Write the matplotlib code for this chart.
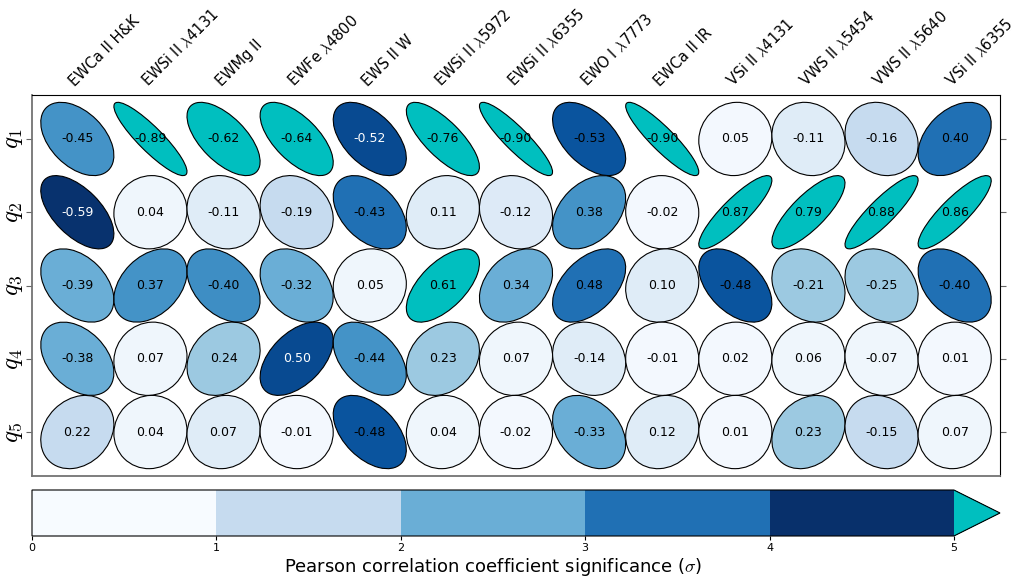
import numpy as np
import matplotlib
matplotlib.use('Agg')
import matplotlib.pyplot as plt
import matplotlib.transforms as mtransforms
from matplotlib.patches import Ellipse
from matplotlib.colors import ListedColormap, BoundaryNorm, Normalize
import matplotlib.colorbar as mcolorbar

plt.rcParams['mathtext.fontset'] = 'cm'

columns = ['EWCa II H&K', r'EWSi II $\lambda$4131', 'EWMg II', r'EWFe $\lambda$4800',
           'EWS II W', r'EWSi II $\lambda$5972', r'EWSi II $\lambda$6355',
           r'EWO I $\lambda$7773', 'EWCa II IR', r'VSi II $\lambda$4131',
           r'VWS II $\lambda$5454', r'VWS II $\lambda$5640', r'VSi II $\lambda$6355']
rows = ['$q_1$', '$q_2$', '$q_3$', '$q_4$', '$q_5$']

# correlation coefficients
corr = np.array([
    [-0.45, -0.89, -0.62, -0.64, -0.52, -0.76, -0.90, -0.53, -0.90, 0.05, -0.11, -0.16, 0.40],
    [-0.59, 0.04, -0.11, -0.19, -0.43, 0.11, -0.12, 0.38, -0.02, 0.87, 0.79, 0.88, 0.86],
    [-0.39, 0.37, -0.40, -0.32, 0.05, 0.61, 0.34, 0.48, 0.10, -0.48, -0.21, -0.25, -0.40],
    [-0.38, 0.07, 0.24, 0.50, -0.44, 0.23, 0.07, -0.14, -0.01, 0.02, 0.06, -0.07, 0.01],
    [0.22, 0.04, 0.07, -0.01, -0.48, 0.04, -0.02, -0.33, 0.12, 0.01, 0.23, -0.15, 0.07],
])

# significance in sigma
sig = np.array([
    [3.1, 6.0, 6.0, 6.0, 4.5, 6.0, 6.0, 4.3, 6.0, 0.1, 0.6, 1.25, 3.75],
    [4.95, 0.2, 0.6, 1.25, 3.75, 0.6, 0.65, 3.1, 0.1, 6.0, 6.0, 6.0, 6.0],
    [2.5, 3.1, 3.2, 2.5, 0.2, 6.0, 2.5, 3.75, 0.6, 4.3, 1.9, 1.9, 3.75],
    [2.5, 0.2, 1.9, 4.5, 3.1, 1.9, 0.2, 0.6, 0.1, 0.1, 0.2, 0.2, 0.1],
    [1.25, 0.2, 0.6, 0.1, 4.3, 0.2, 0.1, 2.5, 0.6, 0.1, 1.9, 1.25, 0.2],
])

fig = plt.figure(figsize=(10.19, 5.79), dpi=100)
ax = fig.add_axes([32 / 1019, 1 - 476 / 579, 968 / 1019, 381 / 579])

cmap = plt.cm.Blues.copy()
cmap.set_over('c')
norm = Normalize(0, 5)

for i in range(len(rows)):
    for j in range(len(columns)):
        r = corr[i, j]
        s = sig[i, j]
        # y axis is inverted, so -45 deg in data looks like +45 on screen
        e = Ellipse((j, i), width=np.sqrt(1 + r), height=np.sqrt(1 - r), angle=-45,
                    facecolor=cmap(norm(s)), edgecolor='k', lw=0.8)
        ax.add_patch(e)
        tc = 'white' if 4.4 < s <= 5 else 'black'
        ax.text(j, i, '%.2f' % r, ha='center', va='center', fontsize=9, color=tc)

ax.set_xlim(-0.62, len(columns) - 0.38)
ax.set_ylim(len(rows) - 0.4, -0.6)
ax.set_xticks(range(len(columns)))
ax.set_yticks(range(len(rows)))
ax.xaxis.tick_top()
ax.set_xticklabels(columns, rotation=45, ha='left', rotation_mode='anchor', fontsize=10.5)
shift = mtransforms.ScaledTranslation(-9 / 100, -3 / 100, fig.dpi_scale_trans)
for lab in ax.get_xticklabels():
    lab.set_transform(lab.get_transform() + shift)
ax.tick_params(axis='x', length=0, pad=4)
ax.set_yticklabels(rows, rotation=90, va='center', fontsize=18)
ax.tick_params(axis='y', left=True, right=True, direction='out', length=4, color='0.4', pad=1)
for side in ['left', 'bottom']:
    ax.spines[side].set_color('0.45')
    ax.spines[side].set_linewidth(1.3)

# colorbar
cax = fig.add_axes([32 / 1019, 1 - 536 / 579, 968 / 1019, 46 / 579])
bounds = [0, 1, 2, 3, 4, 5]
bar_cmap = ListedColormap([plt.cm.Blues(v) for v in [0, 0.25, 0.5, 0.75, 1.0]])
bar_cmap.set_over('c')
cb = mcolorbar.ColorbarBase(cax, cmap=bar_cmap, norm=BoundaryNorm(bounds, bar_cmap.N),
                            orientation='horizontal', extend='max', ticks=bounds)
cb.ax.tick_params(labelsize=8, length=3, pad=2)
cb.set_label(r'Pearson correlation coefficient significance ($\sigma$)', fontsize=13, labelpad=2)

fig.savefig('out.png', dpi=100)
